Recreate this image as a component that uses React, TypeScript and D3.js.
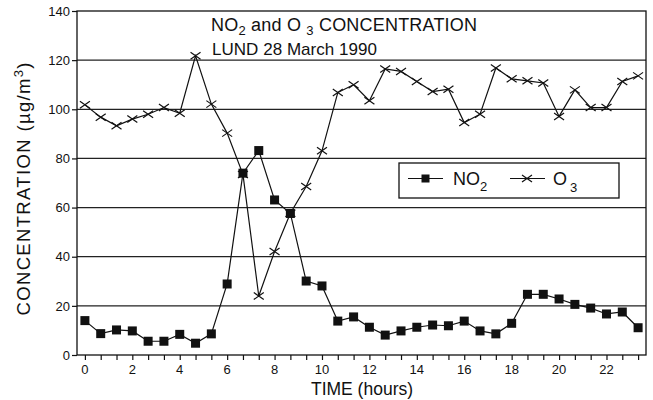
import { useEffect, useRef } from "react";
import * as d3 from "d3";

// sampling every 40 minutes, 0 .. 23h20
const hours: number[] = d3.range(36).map((i) => (i * 2) / 3);

const no2Values: number[] = [
  14.0, 8.7, 10.2, 9.8, 5.6, 5.6, 8.4, 4.8, 8.6, 28.9, 74.0, 83.2,
  63.1, 57.6, 30.1, 28.1, 13.8, 15.5, 11.3, 8.1, 9.8, 11.3, 12.2, 11.9,
  13.8, 9.8, 8.6, 12.9, 24.7, 24.7, 22.8, 20.6, 19.1, 16.7, 17.5, 11.1,
];

const o3Values: number[] = [
  101.8, 96.8, 93.3, 96.0, 98.0, 100.7, 98.4, 121.8, 102.1, 90.3, 73.5, 24.0,
  42.1, 57.7, 68.6, 83.1, 106.8, 110.0, 103.5, 116.4, 115.4, 111.3, 107.2, 108.2,
  94.6, 98.0, 116.8, 112.4, 111.6, 110.7, 97.1, 107.9, 100.7, 100.7, 111.3, 113.6,
];

const yTicks: number[] = [0, 20, 40, 60, 80, 100, 120, 140];
const xLabelTicks: number[] = [0, 2, 4, 6, 8, 10, 12, 14, 16, 18, 20, 22];

function App() {
  const svgRef = useRef<SVGSVGElement | null>(null);

  useEffect(() => {
    const width = 653;
    const height = 400;
    const margin = { top: 11, right: 7, bottom: 45, left: 77 };
    const font = "'Liberation Sans', Arial, Helvetica, sans-serif";

    const svg = d3.select(svgRef.current).attr("width", width).attr("height", height);
    svg.selectAll("*").remove();

    svg.append("rect").attr("width", width).attr("height", height).attr("fill", "#fff");

    const x = d3
      .scaleLinear()
      .domain([-1 / 3, 23 + 2 / 3])
      .range([margin.left, width - margin.right]);
    const y = d3
      .scaleLinear()
      .domain([0, 140])
      .range([height - margin.bottom, margin.top]);

    // grid lines
    svg
      .append("g")
      .selectAll("line")
      .data(yTicks.filter((d) => d > 0 && d < 140))
      .enter()
      .append("line")
      .attr("x1", margin.left)
      .attr("x2", width - margin.right)
      .attr("y1", (d) => y(d))
      .attr("y2", (d) => y(d))
      .attr("stroke", "#222")
      .attr("stroke-width", 1.2);

    // frame
    svg
      .append("rect")
      .attr("x", margin.left)
      .attr("y", margin.top)
      .attr("width", width - margin.right - margin.left)
      .attr("height", height - margin.bottom - margin.top)
      .attr("fill", "none")
      .attr("stroke", "#111")
      .attr("stroke-width", 1.3);

    // y axis
    const yAxis = svg
      .append("g")
      .attr("transform", `translate(${margin.left},0)`)
      .call(d3.axisLeft(y).tickValues(yTicks).tickSize(5).tickPadding(2));
    yAxis.select(".domain").remove();
    yAxis.selectAll("line").attr("stroke", "#111").attr("stroke-width", 1.2);
    yAxis
      .selectAll("text")
      .attr("font-family", font)
      .attr("font-size", 13)
      .attr("fill", "#111");

    // x axis: minor ticks every 40 min, labels on even hours
    const xAxis = svg
      .append("g")
      .attr("transform", `translate(0,${height - margin.bottom})`)
      .call(d3.axisBottom(x).tickValues(hours).tickSize(5).tickFormat(() => ""));
    xAxis.select(".domain").remove();
    xAxis.selectAll("line").attr("stroke", "#111").attr("stroke-width", 1.2);

    svg
      .append("g")
      .selectAll("text")
      .data(xLabelTicks)
      .enter()
      .append("text")
      .attr("x", (d) => x(d))
      .attr("y", height - margin.bottom + 19)
      .attr("text-anchor", "middle")
      .attr("font-family", font)
      .attr("font-size", 13)
      .attr("fill", "#111")
      .text((d) => d);

    // axis titles
    svg
      .append("text")
      .attr("x", 362)
      .attr("y", 395)
      .attr("text-anchor", "middle")
      .attr("font-family", font)
      .attr("font-size", 17.5)
      .attr("fill", "#111")
      .text("TIME (hours)");

    const yTitle = svg
      .append("text")
      .attr("transform", "translate(30,189) rotate(-90)")
      .attr("text-anchor", "middle")
      .attr("font-family", font)
      .attr("font-size", 18.5)
      .attr("textLength", 253)
      .attr("lengthAdjust", "spacing")
      .attr("fill", "#111");
    yTitle.append("tspan").text("CONCENTRATION (µg/m");
    yTitle.append("tspan").attr("dy", -7).attr("font-size", 13).text("3");
    yTitle.append("tspan").attr("dy", 7).text(")");

    // lines
    const line = d3
      .line<number>()
      .x((_, i) => x(hours[i]))
      .y((d) => y(d));

    svg
      .append("path")
      .datum(o3Values)
      .attr("fill", "none")
      .attr("stroke", "#111")
      .attr("stroke-width", 1.2)
      .attr("d", line);

    svg
      .append("path")
      .datum(no2Values)
      .attr("fill", "none")
      .attr("stroke", "#111")
      .attr("stroke-width", 1.2)
      .attr("d", line);

    // O3 crosses
    const cross = (cx: number, cy: number) =>
      `M${cx - 5},${cy - 3.5}L${cx + 5},${cy + 3.5}M${cx - 5},${cy + 3.5}L${cx + 5},${cy - 3.5}`;

    svg
      .append("g")
      .selectAll("path")
      .data(o3Values)
      .enter()
      .append("path")
      .attr("d", (d, i) => cross(x(hours[i]), y(d)))
      .attr("stroke", "#111")
      .attr("stroke-width", 1.2)
      .attr("fill", "none");

    // NO2 squares
    svg
      .append("g")
      .selectAll("rect")
      .data(no2Values)
      .enter()
      .append("rect")
      .attr("x", (_, i) => x(hours[i]) - 4.5)
      .attr("y", (d) => y(d) - 4.5)
      .attr("width", 9)
      .attr("height", 9)
      .attr("fill", "#111");

    // title
    const t1 = svg
      .append("text")
      .attr("x", 211)
      .attr("y", 31)
      .attr("font-family", font)
      .attr("font-size", 18)
      .attr("textLength", 266)
      .attr("lengthAdjust", "spacing")
      .attr("fill", "#111");
    t1.append("tspan").text("NO");
    t1.append("tspan").attr("dy", 4).attr("font-size", 13).text("2");
    t1.append("tspan").attr("dy", -4).text(" and O ");
    t1.append("tspan").attr("dy", 4).attr("font-size", 13).text("3");
    t1.append("tspan").attr("dy", -4).text(" CONCENTRATION");

    svg
      .append("text")
      .attr("x", 212)
      .attr("y", 55)
      .attr("font-family", font)
      .attr("font-size", 17)
      .attr("textLength", 165)
      .attr("lengthAdjust", "spacing")
      .attr("fill", "#111")
      .text("LUND 28 March 1990");

    // legend
    const legend = svg.append("g");
    legend
      .append("rect")
      .attr("x", 399)
      .attr("y", 163)
      .attr("width", 220)
      .attr("height", 35)
      .attr("fill", "#fff")
      .attr("stroke", "#111")
      .attr("stroke-width", 1.3);

    const ly = 178.5;
    legend
      .append("line")
      .attr("x1", 408)
      .attr("x2", 443)
      .attr("y1", ly)
      .attr("y2", ly)
      .attr("stroke", "#111")
      .attr("stroke-width", 1.2);
    legend
      .append("rect")
      .attr("x", 425.5 - 4)
      .attr("y", ly - 4)
      .attr("width", 8)
      .attr("height", 8)
      .attr("fill", "#111");
    const l1 = legend
      .append("text")
      .attr("x", 453)
      .attr("y", 185)
      .attr("font-family", font)
      .attr("font-size", 18)
      .attr("fill", "#111");
    l1.append("tspan").text("NO");
    l1.append("tspan").attr("dy", 6).attr("font-size", 13).text("2");

    legend
      .append("line")
      .attr("x1", 510)
      .attr("x2", 545)
      .attr("y1", ly)
      .attr("y2", ly)
      .attr("stroke", "#111")
      .attr("stroke-width", 1.2);
    legend
      .append("path")
      .attr("d", cross(527, ly))
      .attr("stroke", "#111")
      .attr("stroke-width", 1.2);
    const l2 = legend
      .append("text")
      .attr("x", 553)
      .attr("y", 185)
      .attr("font-family", font)
      .attr("font-size", 18)
      .attr("fill", "#111");
    l2.append("tspan").text("O");
    l2.append("tspan").attr("dx", 3).attr("dy", 7).attr("font-size", 13).text("3");
  }, []);

  return (
    <div style={{ position: "absolute", left: 0, top: 0 }}>
      <svg ref={svgRef} width={653} height={400}></svg>
    </div>
  );
}

export default App;
